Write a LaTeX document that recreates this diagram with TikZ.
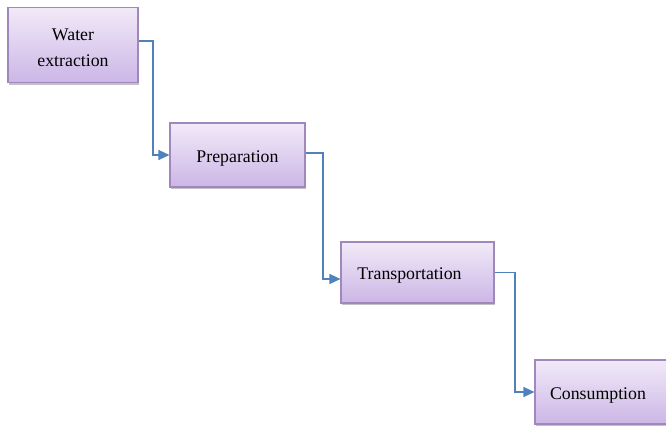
\documentclass[tikz,border=0pt]{standalone}
\usepackage{fontspec}
\setmainfont{Liberation Serif}
\usetikzlibrary{arrows.meta,shadows,calc}
\definecolor{boxtop}{HTML}{F1EAF8}
\definecolor{boxbot}{HTML}{CCB6E6}
\definecolor{boxline}{HTML}{A088BC}
\definecolor{arrowblue}{HTML}{4F81BD}
\tikzset{
  procbox/.style={draw=boxline, line width=1.1pt, top color=boxtop, bottom color=boxbot,
    drop shadow={shadow xshift=1.2pt, shadow yshift=-2.4pt, opacity=0.4, fill=black!60},
    inner sep=0pt},
  boxtext/.style={font=\fontsize{17.8}{26}\selectfont, align=center, inner sep=0pt, yshift=-3pt},
  flow/.style={draw=arrowblue, line width=1.2pt, -{Triangle[length=11pt,width=10pt]}}
}
\begin{document}
\begin{tikzpicture}[x=1pt,y=-1pt]
\useasboundingbox (0,0) rectangle (666,426);
\node[procbox, minimum width=130pt, minimum height=75pt] (b1) at (73,45) {};
\node[boxtext] (t1) at (73,45) {Water\\extraction};
\node[procbox, minimum width=135pt, minimum height=64pt] (b2) at (237.5,155) {};
\node[boxtext] (t2) at (237.5,155) {Preparation};
\node[procbox, minimum width=153pt, minimum height=61pt] (b3) at (417.5,272.5) {};
\node[boxtext] (t3) at (409.5,272.5) {Transportation};
\node[procbox, minimum width=140pt, minimum height=64pt] (b4) at (605,392) {};
\node[boxtext] (t4) at (598,392) {Consumption};
\draw[flow] ($(b1.east)+(0,-4)$) -| (153,155) -- (b2.west);
\draw[flow] ($(b2.east)+(0,-2)$) -| (323,279) -- (b3.west |- 0,279);
\draw[flow] (b3.east) -| (515,392) -- (b4.west);
\end{tikzpicture}
\end{document}
